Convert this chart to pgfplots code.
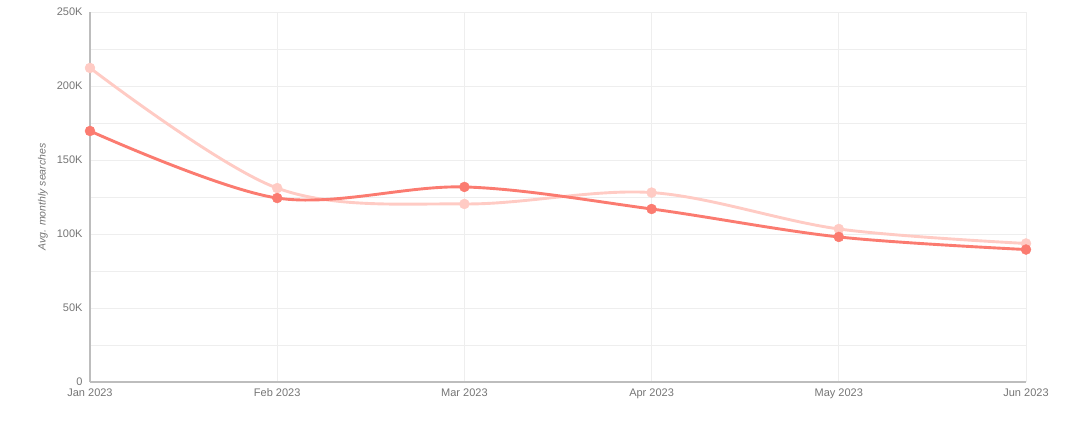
\documentclass[border=0pt]{standalone}
\usepackage{fontspec}
\setmainfont{Liberation Sans}
\usepackage{pgfplots}
\pgfplotsset{compat=1.18}
\definecolor{darkline}{HTML}{FB7B70}
\definecolor{lightline}{HTML}{FFCBC4}
\definecolor{gridc}{HTML}{EEEEEE}
\definecolor{axisc}{HTML}{BDBDBD}
\definecolor{textc}{HTML}{757575}
\begin{document}
\begin{tikzpicture}
\begin{axis}[
  scale only axis,
  width=936pt, height=370pt,
  xmin=0, xmax=5, ymin=0, ymax=250000,
  scaled y ticks=false,
  xtick={0,1,2,3,4,5},
  xticklabels={Jan 2023,Feb 2023,Mar 2023,Apr 2023,May 2023,Jun 2023},
  ytick={0,50000,100000,150000,200000,250000},
  yticklabels={0,50K,100K,150K,200K,250K},
  minor ytick={25000,75000,125000,175000,225000},
  grid=both,
  major grid style={gridc, line width=0.8pt},
  minor grid style={gridc, line width=0.8pt},
  axis line style={draw=none},
  tick style={draw=none},
  tick label style={font=\fontsize{11}{13}\selectfont, text=textc},
  xticklabel style={anchor=north, text height=7.5pt, text depth=2pt, yshift=-3pt},
  yticklabel style={anchor=east, xshift=-4pt},
  ylabel={\itshape Avg. monthly searches},
  ylabel style={font=\fontsize{10.5}{12}\selectfont, text=textc, at={(rel axis cs:-0.0502,0.5)}, anchor=center},
  clip=false,
]
\addplot[lightline, line width=2.9pt, smooth, tension=0.55, mark=*, mark size=5pt, mark options={solid, fill=lightline, draw=lightline, line width=0.4pt}]
 coordinates {(0,212200) (1,131000) (2,120300) (3,128000) (4,103400) (5,93600)};
\addplot[darkline, line width=2.9pt, smooth, tension=0.55, mark=*, mark size=5pt, mark options={solid, fill=darkline, draw=darkline, line width=0.4pt}]
 coordinates {(0,169600) (1,124300) (2,131800) (3,116900) (4,98000) (5,89500)};
\draw[axisc, line width=1.2pt] (rel axis cs:0,0) -- (rel axis cs:0,1);
\draw[axisc, line width=1.8pt] (rel axis cs:0,0) -- (rel axis cs:1,0);
\end{axis}
\path ([xshift=-90pt,yshift=-43pt]current axis.south west) rectangle ([xshift=64pt,yshift=12pt]current axis.north east);
\end{tikzpicture}
\end{document}
